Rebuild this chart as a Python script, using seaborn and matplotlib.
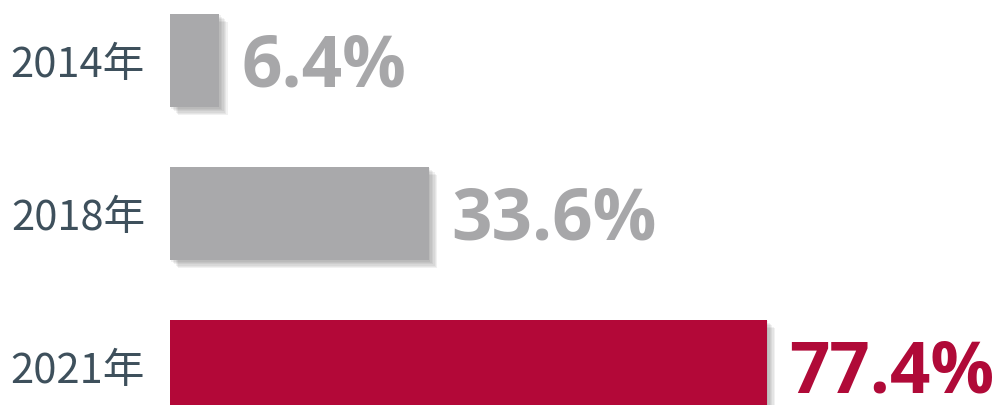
import matplotlib
matplotlib.use("Agg")
import matplotlib.pyplot as plt
import matplotlib.patheffects as pe
import seaborn as sns

# -------- data --------
years = ["2014年", "2018年", "2021年"]
values = [6.4, 33.6, 77.4]
labels = ["6.4%", "33.6%", "77.4%"]
bar_colors = ["#a9a9ab", "#a9a9ab", "#b30838"]
text_colors = ["#a7a7a9", "#a7a7a9", "#b00a38"]

sns.set_theme(style="white")
plt.rcParams["font.family"] = ["Noto Sans CJK JP", "DejaVu Sans"]

fig = plt.figure(figsize=(10.07, 4.06), dpi=100)
ax = fig.add_axes([170 / 1007, 0, 837 / 1007, 1])

sns.barplot(x=values, y=years, hue=years, palette=bar_colors, legend=False,
            width=0.61, orient="h", saturation=1, linewidth=0, ax=ax)

# soft blurred drop shadow under each bar
shadow = [pe.SimplePatchShadow(offset=(o, -o), shadow_rgbFace="#444444", alpha=0.07)
          for o in (1, 2, 3, 4, 5, 6)]
for p in ax.patches:
    p.set_path_effects(shadow + [pe.Normal()])

ax.set_xlim(0, 837 / 7.71)
ax.set_ylim(2.252, -0.402)

for i, (v, lab) in enumerate(zip(values, labels)):
    ax.annotate(lab, (v, i), xytext=(16, -4), textcoords="offset points",
                ha="left", va="center", fontsize=51, fontweight="bold",
                color=text_colors[i], family=["Open Sans", "DejaVu Sans"])

ax.set_xlabel("")
ax.set_ylabel("")
ax.set_xticks([])
ax.tick_params(axis="y", length=0, pad=18, labelsize=30, labelcolor="#3e505c")
for s in ax.spines.values():
    s.set_visible(False)

fig.savefig("out.png", dpi=100)
